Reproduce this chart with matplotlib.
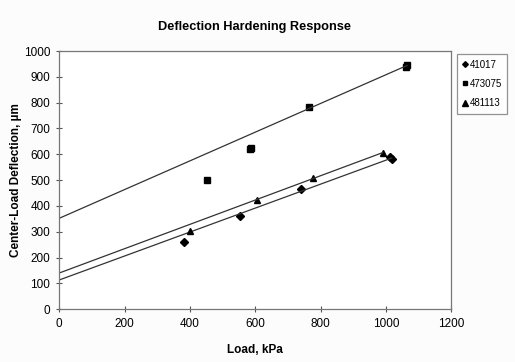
import numpy as np
from matplotlib import pyplot as plt

plt.rcParams['font.family'] = ['Liberation Sans', 'DejaVu Sans']

# measured points
x_41017 = [383, 555, 740, 1013, 1018]
y_41017 = [260, 361, 465, 590, 582]
x_473075 = [451, 583, 587, 764, 1063, 1065]
y_473075 = [499, 620, 624, 782, 938, 946]
x_481113 = [399, 605, 778, 990]
y_481113 = [302, 423, 509, 606]

# trend lines (intercept, slope) as drawn in the chart
trend_41017 = (113, 0.464)
trend_473075 = (352, 0.556)
trend_481113 = (140, 0.471)

x_ticks = [0, 200, 400, 600, 800, 1000, 1200]
y_ticks = [0, 100, 200, 300, 400, 500, 600, 700, 800, 900, 1000]

fig = plt.figure(figsize=(5.15, 3.62), dpi=100, facecolor='#fcfcfc')
ax = fig.add_axes([0.115, 0.146, 0.761, 0.713])
ax.set_facecolor('white')

series = [
    ('41017', x_41017, y_41017, trend_41017, 'D', 3.6),
    ('473075', x_473075, y_473075, trend_473075, 's', 4.2),
    ('481113', x_481113, y_481113, trend_481113, '^', 4.6),
]
handles = []
for name, xs, ys, (b, m), mk, ms in series:
    h, = ax.plot(xs, ys, linestyle='none', marker=mk, markersize=ms,
                 color='black', label=name)
    handles.append(h)
    xl = np.array([0, max(xs)])
    ax.plot(xl, b + m * xl, color='#333333', linewidth=0.9)

ax.set_xlim(0, 1200)
ax.set_ylim(0, 1000)
ax.set_xticks(x_ticks)
ax.set_yticks(y_ticks)
ax.tick_params(direction='inout', length=5, width=0.8, color='#555555',
               labelsize=8.5, pad=4)
for s in ax.spines.values():
    s.set_color('#777777')
    s.set_linewidth(0.9)

ax.set_xlabel('Load, kPa', fontsize=8.5, fontweight='bold', labelpad=10)
ax.set_ylabel('Center-Load Deflection, µm', fontsize=8.5, fontweight='bold',
              labelpad=1)
fig.text(0.495, 0.925, 'Deflection Hardening Response', ha='center',
         va='center', fontsize=9.2, fontweight='bold')

leg = fig.legend(handles=handles, loc='upper left',
                 bbox_to_anchor=(0.884, 0.857), fontsize=7,
                 handlelength=0.5, handletextpad=0.15, borderpad=0.6,
                 labelspacing=0.95, borderaxespad=0.2, markerscale=0.8,
                 fancybox=False, frameon=True)
leg.get_frame().set_edgecolor('#777777')
leg.get_frame().set_linewidth(0.9)

plt.savefig('out.png', dpi=100, facecolor=fig.get_facecolor())
